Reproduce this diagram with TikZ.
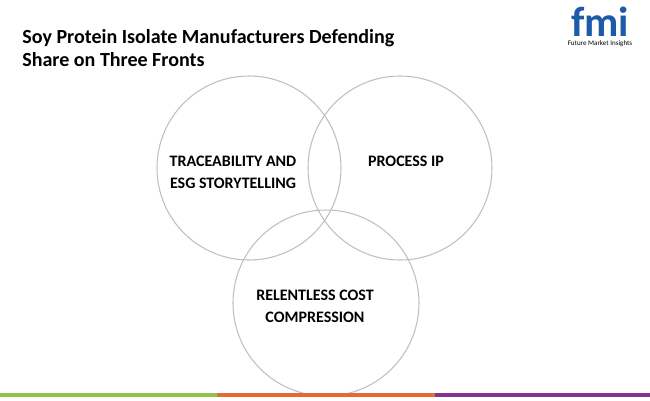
\documentclass[tikz,border=0pt]{standalone}
\usepackage{fontspec}
\setmainfont{Carlito}
\usetikzlibrary{positioning}
\definecolor{barGreen}{RGB}{146,194,80}
\definecolor{barOrange}{RGB}{228,108,52}
\definecolor{barPurple}{RGB}{128,52,148}
\definecolor{fmiBlue}{RGB}{30,90,170}
\begin{document}
\begin{tikzpicture}[x=0.02cm, y=-0.02cm,
            ring/.style={black!25, line width=0.6pt},
            label/.style={font=\bfseries\fontsize{9.1}{12.5}\selectfont, align=center},
            bar/.style={line width=2pt}
            ]
            \useasboundingbox (0,0) rectangle (650,400);
            
            % Title
            \node[anchor=north west, align=left, inner sep=0pt, font=\bfseries\fontsize{11.4}{13}\selectfont] (title) at (22,29)
                {Soy Protein Isolate Manufacturers Defending\\Share on Three Fronts};
            
            % Logo
            \node[font=\bfseries\fontsize{24}{24}\selectfont, text=fmiBlue, inner sep=0pt] (logo) at (600,22) {fmi};
            \node[font=\fontsize{4}{4}\selectfont, below=2pt of logo, inner sep=0pt] (logotext) {Future Market Insights};
            
            % Circles
            \draw[ring] (249,168) circle (92);
            \draw[ring] (400,168) circle (92);
            \draw[ring] (326,303) circle (93);
            
            % Labels
            \node[label] (trace) at (233,172) {TRACEABILITY AND\\ESG STORYTELLING};
            \node[label] (process) at (406,161) {PROCESS IP};
            \node[label] (cost) at (315,306) {RELENTLESS COST\\COMPRESSION};
            
            % Bottom bar
            \draw[bar, barGreen] (0,395) -- (217,395);
            \draw[bar, barOrange] (217,395) -- (435,395);
            \draw[bar, barPurple] (435,395) -- (650,395);
            
        \end{tikzpicture}
\end{document}
